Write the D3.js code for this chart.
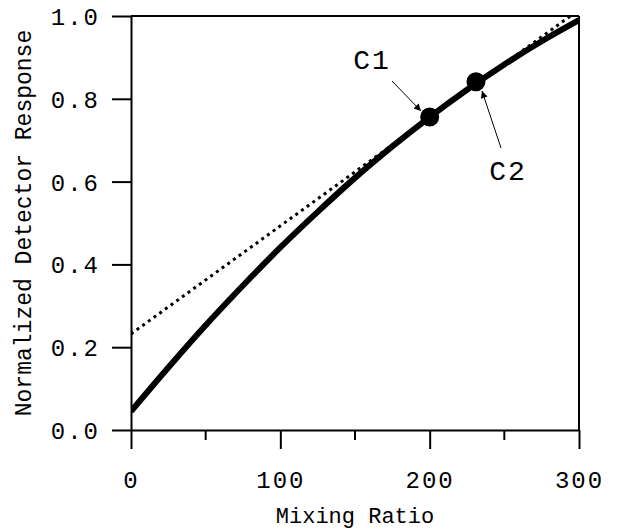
<!DOCTYPE html>
<html>
<head>
<meta charset="utf-8">
<script src="https://cdn.jsdelivr.net/npm/d3@7"></script>
<style>
  html, body { margin: 0; padding: 0; background: #fff; }
  svg { display: block; }
  text { font-family: "Courier New", "Liberation Mono", monospace; fill: #000; }
</style>
</head>
<body>
<svg id="chart" width="618" height="529"></svg>
<script>
// Detector response curve (normalized) against mixing ratio
const mixingRatio = [0, 25, 50, 75, 100, 125, 150, 175, 200, 225, 250, 275, 300];
const response    = [0.045, 0.151, 0.253, 0.349, 0.441, 0.527, 0.609, 0.685, 0.756, 0.822, 0.883, 0.939, 0.99];

// Straight-line (linear) approximation drawn dotted
const linearX = [0, 300];
const linearY = [0.232, 1.015];

// Calibration points
const pointNames = ["C1", "C2"];
const pointX = [200, 231];
const pointY = [0.756, 0.841];

// Axis ticks
const xTicks = [0, 100, 200, 300];
const xMinorTicks = [50, 150, 250];
const yTicks = [0, 0.2, 0.4, 0.6, 0.8, 1.0];

const svg = d3.select("#chart");
const margin = { left: 131, right: 39, top: 16, bottom: 99 };
const W = 618, H = 529;

const x = d3.scaleLinear().domain([0, 300]).range([margin.left, W - margin.right]);
const y = d3.scaleLinear().domain([0, 1]).range([H - margin.bottom, margin.top]);

const tickLen = 19;
const axisStroke = 2;
const fontStack = '"Courier New", "Liberation Mono", monospace';

// Clip for data lines
const defs = svg.append("defs");
defs.append("clipPath").attr("id", "plot-clip")
  .append("rect")
  .attr("x", x(0)).attr("y", y(1))
  .attr("width", x(300) - x(0)).attr("height", y(0) - y(1));

// Arrowhead marker
defs.append("marker")
  .attr("id", "arrow")
  .attr("viewBox", "0 0 10 10")
  .attr("refX", 10).attr("refY", 5)
  .attr("markerWidth", 9).attr("markerHeight", 7)
  .attr("markerUnits", "userSpaceOnUse")
  .attr("orient", "auto")
  .append("path").attr("d", "M0,0 L10,5 L0,10 Z").attr("fill", "#000");

// Frame: top and right edges
const frame = svg.append("g").attr("stroke", "#000").attr("stroke-width", axisStroke).attr("fill", "none");
frame.append("line").attr("x1", x(0)).attr("x2", x(300)).attr("y1", y(1)).attr("y2", y(1));
frame.append("line").attr("x1", x(300)).attr("x2", x(300)).attr("y1", y(1)).attr("y2", y(0));

// Y axis
const yAxis = d3.axisLeft(y).tickValues(yTicks).tickSize(tickLen).tickPadding(12)
  .tickFormat(d3.format(".1f")).tickSizeOuter(0);
const gy = svg.append("g").attr("transform", `translate(${x(0)},0)`).call(yAxis);

// X axis
const xAxis = d3.axisBottom(x).tickValues(xTicks).tickSize(tickLen).tickPadding(22)
  .tickFormat(d3.format("d")).tickSizeOuter(0);
const gx = svg.append("g").attr("transform", `translate(0,${y(0)})`).call(xAxis);

// X minor ticks
svg.append("g").selectAll("line").data(xMinorTicks).join("line")
  .attr("x1", d => x(d)).attr("x2", d => x(d))
  .attr("y1", y(0)).attr("y2", y(0) + 10)
  .attr("stroke", "#000").attr("stroke-width", axisStroke);

[gx, gy].forEach(g => {
  g.select(".domain").attr("stroke", "#000").attr("stroke-width", axisStroke);
  g.selectAll(".tick line").attr("stroke", "#000").attr("stroke-width", axisStroke);
  g.selectAll(".tick text")
    .style("font-family", fontStack)
    .style("font-size", "24px")
    .style("letter-spacing", "2px")
    .attr("fill", "#000");
});
gy.selectAll(".tick text").attr("dy", "0.35em");

// Axis titles
svg.append("text")
  .attr("x", (x(0) + x(300)) / 2).attr("y", 517)
  .attr("text-anchor", "middle").attr("dominant-baseline", "middle")
  .style("font-size", "22px")
  .text("Mixing Ratio");

svg.append("text")
  .attr("transform", `translate(25,${(y(0) + y(1)) / 2}) rotate(-90)`)
  .attr("text-anchor", "middle").attr("dominant-baseline", "middle")
  .style("font-size", "23px")
  .text("Normalized Detector Response");

const plot = svg.append("g").attr("clip-path", "url(#plot-clip)");

// Dotted linear approximation
plot.append("path")
  .datum(linearX.map((d, i) => [d, linearY[i]]))
  .attr("fill", "none").attr("stroke", "#000")
  .attr("stroke-width", 3).attr("stroke-dasharray", "3,4")
  .attr("d", d3.line().x(d => x(d[0])).y(d => y(d[1])));

// Response curve
plot.append("path")
  .datum(mixingRatio.map((d, i) => [d, response[i]]))
  .attr("fill", "none").attr("stroke", "#000")
  .attr("stroke-width", 6).attr("stroke-linecap", "butt")
  .attr("d", d3.line().curve(d3.curveMonotoneX).x(d => x(d[0])).y(d => y(d[1])));

// Calibration points
svg.append("g").selectAll("circle").data(pointX).join("circle")
  .attr("cx", d => x(d)).attr("cy", (d, i) => y(pointY[i]))
  .attr("r", 9.5).attr("fill", "#000");

// Labels with leader arrows
const labelPos = [
  { tx: 372, ty: 62, ax1: 392, ay1: 81, ax2: 421, ay2: 111 },
  { tx: 508, ty: 173, ax1: 501, ay1: 148, ax2: 482, ay2: 91 }
];
pointNames.forEach((name, i) => {
  const p = labelPos[i];
  svg.append("line")
    .attr("x1", p.ax1).attr("y1", p.ay1).attr("x2", p.ax2).attr("y2", p.ay2)
    .attr("stroke", "#000").attr("stroke-width", 1)
    .attr("marker-end", "url(#arrow)");
  svg.append("text")
    .attr("x", p.tx).attr("y", p.ty)
    .attr("text-anchor", "middle").attr("dominant-baseline", "middle")
    .style("font-size", "28px").style("letter-spacing", "2px")
    .text(name);
});
</script>
</body>
</html>
